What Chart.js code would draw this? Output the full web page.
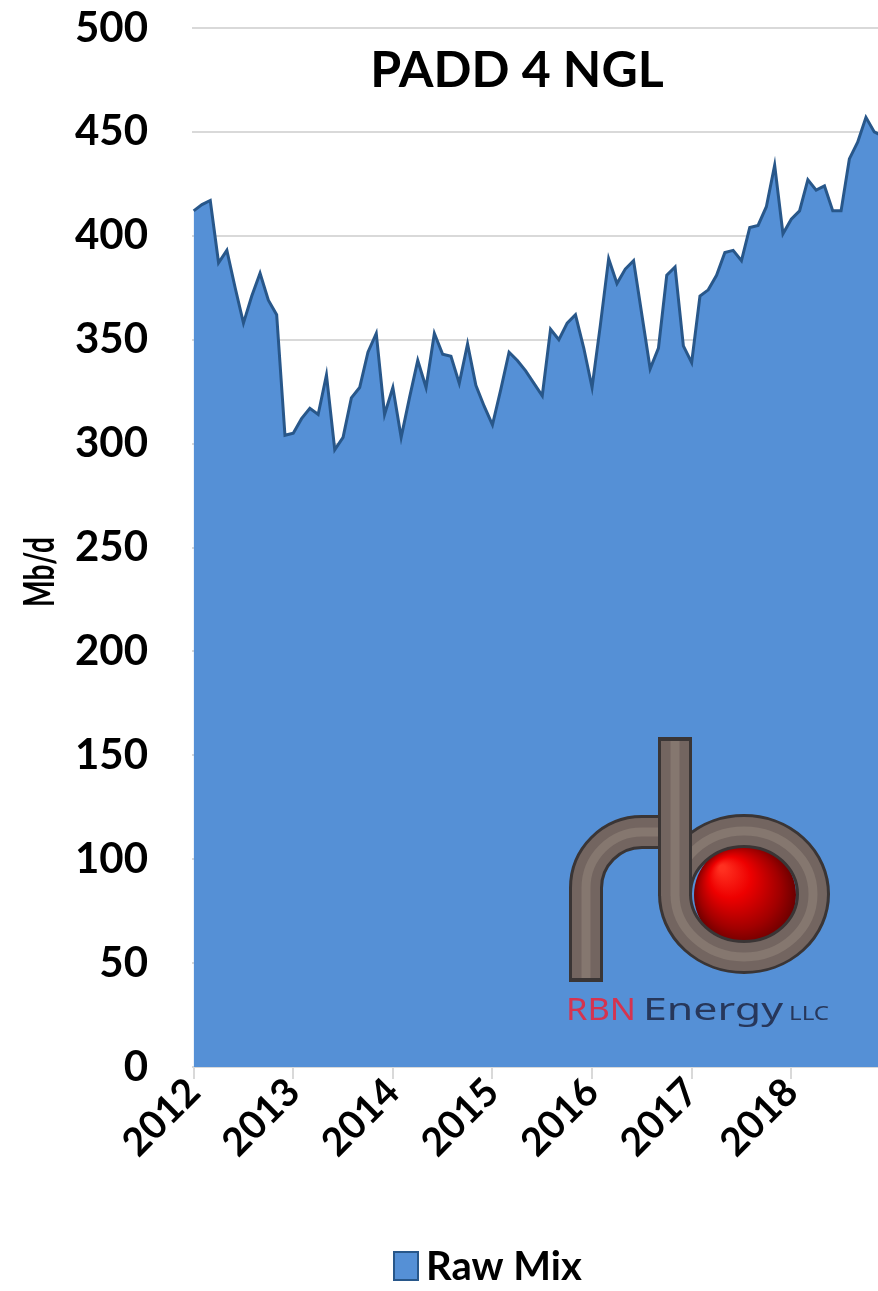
<!DOCTYPE html>
<html>
<head>
<meta charset="utf-8">
<script src="https://cdn.jsdelivr.net/npm/chart.js@4/dist/chart.umd.min.js"></script>
<style>
  html, body { margin: 0; padding: 0; background: #fff; overflow: hidden; }
  canvas { display: block; }
</style>
</head>
<body>
<canvas id="chart" width="878" height="1291"></canvas>
<script>
// PADD 4 NGL production, monthly, Mb/d
const chartTitle = 'PADD 4 NGL';
const yAxisTitle = 'Mb/d';
const seriesName = 'Raw Mix';
const yearLabels = ['2012', '2013', '2014', '2015', '2016', '2017', '2018'];
const monthsPerYear = 12;

// Raw Mix, Jan..Dec of each year
const rawMix2012 = [412, 415, 417, 387, 393, 375, 358, 371, 382, 369, 362, 304];
const rawMix2013 = [305, 312, 317, 314, 333, 297, 303, 322, 327, 344, 353, 314];
const rawMix2014 = [327, 303, 322, 340, 327, 353, 343, 342, 329, 348, 328, 318];
const rawMix2015 = [309, 326, 344, 340, 335, 329, 323, 355, 350, 358, 362, 346];
const rawMix2016 = [327, 357, 389, 377, 384, 388, 362, 336, 346, 381, 385, 347];
const rawMix2017 = [339, 371, 374, 381, 392, 393, 388, 404, 405, 414, 434, 401];
const rawMix2018 = [408, 412, 427, 422, 424, 412, 412, 437, 445, 457, 450, 448];

const rawMix = [].concat(rawMix2012, rawMix2013, rawMix2014, rawMix2015,
                         rawMix2016, rawMix2017, rawMix2018);

// month offset from Jan 2012 on the x axis
const points = rawMix.map((v, i) => ({ x: i, y: v }));

const FONT = 'Lato, "Open Sans", sans-serif';
const AREA_FILL = '#5590d6';
const AREA_LINE = '#28578a';

// text squeezed or stretched to a given width
function fitText(c, text, x, y, width) {
  const w = c.measureText(text).width;
  c.save();
  c.translate(x, y);
  c.scale(width / w, 1);
  c.fillText(text, 0, 0);
  c.restore();
}

// Title, axis title, legend and company mark drawn on top of the plot
const decorations = {
  id: 'decorations',
  afterDatasetsDraw(chart) {
    const c = chart.ctx;
    c.save();

    // chart title inside the plot
    c.fillStyle = '#000';
    c.font = 'bold 50px ' + FONT;
    c.textAlign = 'center';
    c.textBaseline = 'middle';
    c.fillText(chartTitle, 517, 71);

    // --- RBN Energy mark ---
    // red sphere
    const g = c.createRadialGradient(722, 868, 3, 745, 895, 53);
    g.addColorStop(0, '#ff3020');
    g.addColorStop(0.35, '#ee0000');
    g.addColorStop(0.75, '#a00000');
    g.addColorStop(1, '#650000');
    c.fillStyle = g;
    c.beginPath();
    c.arc(745, 895, 51, 0, Math.PI * 2);
    c.fill();

    const pipe = (build) => {
      [[34, '#3a3535'], [28, '#736560'], [9, '#85776f']].forEach(([w, col]) => {
        c.lineWidth = w;
        c.strokeStyle = col;
        c.lineCap = 'butt';
        c.lineJoin = 'round';
        c.beginPath();
        build();
        c.stroke();
      });
    };
    // bowl of the "b"
    pipe(() => c.ellipse(744, 894, 69, 63, 0, 0, Math.PI * 2));
    // the "r"
    pipe(() => {
      c.moveTo(586, 981);
      c.lineTo(586, 888);
      c.arc(642, 888, 56, Math.PI, 1.5 * Math.PI);
      c.lineTo(677, 832);
    });
    // stem of the "b"
    pipe(() => {
      c.moveTo(675, 739);
      c.lineTo(675, 896);
    });
    // dark rims on the open pipe ends
    c.fillStyle = '#3a3535';
    c.fillRect(658, 737, 34, 4);
    c.fillRect(569, 978, 34, 4);

    c.textAlign = 'left';
    c.textBaseline = 'alphabetic';
    c.font = '30px "Noto Sans", sans-serif';
    c.fillStyle = '#d6334f';
    fitText(c, 'RBN', 566, 1020, 70);
    c.fillStyle = '#27375a';
    fitText(c, 'Energy', 643, 1020, 140);
    c.font = '19px "Noto Sans", sans-serif';
    fitText(c, 'LLC', 789, 1020, 40);

    c.restore();
  },
  afterDraw(chart) {
    const c = chart.ctx;
    const ds = chart.data.datasets[0];
    c.save();

    // y axis title
    c.fillStyle = '#000';
    c.font = 'bold 42px ' + FONT;
    c.textAlign = 'left';
    c.textBaseline = 'middle';
    c.translate(40, 572);
    c.rotate(-Math.PI / 2);
    fitText(c, yAxisTitle, -35, 0, 70);
    c.setTransform(1, 0, 0, 1, 0, 0);

    // legend
    c.fillStyle = ds.backgroundColor;
    c.fillRect(394, 1252, 24, 28);
    c.strokeStyle = ds.borderColor;
    c.lineWidth = 2;
    c.strokeRect(394, 1252, 24, 28);
    c.fillStyle = '#000';
    c.font = 'bold 40px ' + FONT;
    c.textAlign = 'left';
    c.fillText(ds.label, 426, 1267);

    c.restore();
  }
};

new Chart(document.getElementById('chart'), {
  type: 'line',
  data: {
    datasets: [{
      label: seriesName,
      data: points,
      fill: 'origin',
      backgroundColor: AREA_FILL,
      borderColor: AREA_LINE,
      borderWidth: 3,
      pointRadius: 0,
      tension: 0
    }]
  },
  options: {
    responsive: false,
    animation: false,
    layout: { padding: { top: 28, right: 0, bottom: 0, left: 0 } },
    plugins: {
      legend: { display: false },
      title: { display: false },
      tooltip: { enabled: false }
    },
    scales: {
      x: {
        type: 'linear',
        min: -0.2,
        max: 82.45,
        afterBuildTicks: (scale) => {
          scale.ticks = yearLabels.map((_, k) => ({ value: k * monthsPerYear }));
        },
        afterFit: (scale) => { scale.height = 224; },
        ticks: {
          autoSkip: false,
          minRotation: 45,
          maxRotation: 45,
          padding: -10,
          color: '#000',
          font: { family: FONT, size: 39, weight: 'bold' },
          callback: (value, index) => yearLabels[index]
        },
        grid: {
          drawOnChartArea: false,
          drawTicks: true,
          tickLength: 12,
          color: '#d9d9d9',
          lineWidth: 2
        },
        border: { display: false }
      },
      y: {
        min: 0,
        max: 500,
        afterFit: (scale) => { scale.width = 192; },
        ticks: {
          stepSize: 50,
          padding: 0,
          color: '#000',
          font: { family: FONT, size: 42, weight: 'bold' }
        },
        grid: {
          color: '#d9d9d9',
          lineWidth: 2,
          drawTicks: true,
          tickLength: 44,
          tickColor: 'rgba(0,0,0,0)'
        },
        border: { display: false }
      }
    }
  },
  plugins: [decorations]
});
</script>
</body>
</html>
